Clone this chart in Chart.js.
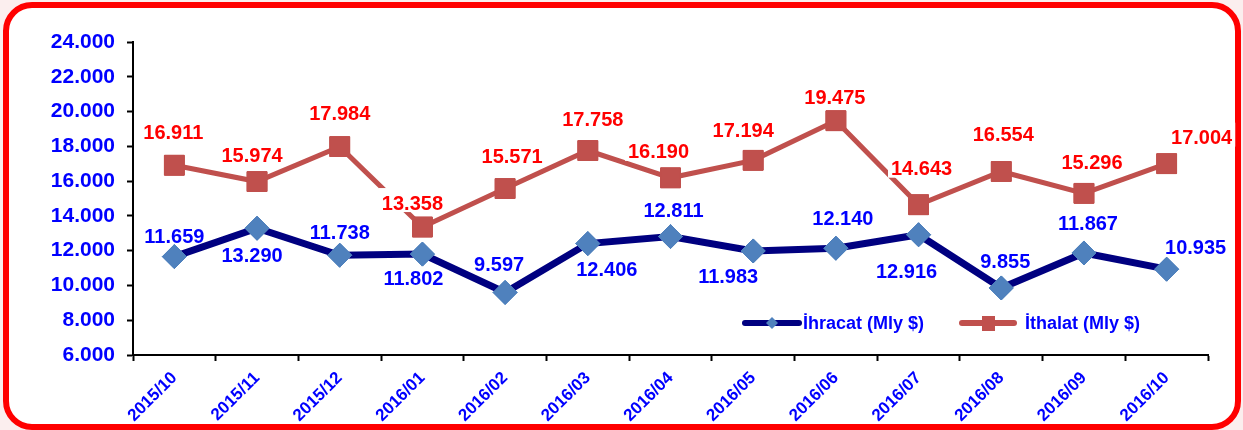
<!DOCTYPE html>
<html>
<head>
<meta charset="utf-8">
<script src="https://cdn.jsdelivr.net/npm/chart.js@4"></script>
<style>
  html, body { margin: 0; padding: 0; background: #fff; }
  canvas { display: block; }
</style>
</head>
<body>
<canvas id="trade-chart" width="1243" height="430"></canvas>
<script>
const months = ['2015/10', '2015/11', '2015/12', '2016/01', '2016/02', '2016/03', '2016/04',
  '2016/05', '2016/06', '2016/07', '2016/08', '2016/09', '2016/10'];
const ihracat = [11659, 13290, 11738, 11802, 9597, 12406, 12811, 11983, 12140, 12916, 9855, 11867, 10935];
const ithalat = [16911, 15974, 17984, 13358, 15571, 17758, 16190, 17194, 19475, 14643, 16554, 15296, 17004];
const seriesNames = ['İhracat (Mly $)', 'İthalat (Mly $)'];

// where each value label sits relative to its point (dx, dy)
const ihracatLabelPos = [[0, -20], [-5, 27], [0, -23], [-9, 24], [-6, -28], [19, 26], [3, -26],
  [-25, 26], [7, -30], [-12, 37], [4, -26], [4, -29], [29, -22]];
const ithalatLabelPos = [[-1, -33], [-5, -26], [0, -33], [-10, -24], [7, -32], [5, -31], [-12, -26],
  [-10, -30], [-1, -23], [3, -36], [2, -37], [8, -31], [35, -26]];

const FONT = "'Liberation Sans', Arial, sans-serif";
const NAVY = '#000080';
const STEEL = '#4F81BD';
const BRICK = '#C0504D';

function fmt(v) {
  return (v / 1000).toFixed(3);
}

const frame = {
  id: 'frame',
  beforeDraw(chart) {
    const ctx = chart.ctx;
    ctx.save();
    ctx.fillStyle = '#fbeeee';
    ctx.fillRect(0, 0, chart.width, chart.height);
    ctx.beginPath();
    ctx.roundRect(6, 5, 1232, 422, 26);
    ctx.fillStyle = '#fff';
    ctx.fill();
    ctx.lineWidth = 6;
    ctx.strokeStyle = '#ff0000';
    ctx.stroke();
    ctx.restore();
  }
};

const valueLabels = {
  id: 'valueLabels',
  afterDatasetsDraw(chart) {
    const ctx = chart.ctx;
    const setups = [
      { values: ihracat, pos: ihracatLabelPos, color: '#0000ff', box: false },
      { values: ithalat, pos: ithalatLabelPos, color: '#ff0000', box: true }
    ];
    ctx.save();
    ctx.font = 'bold 20px ' + FONT;
    ctx.textAlign = 'center';
    ctx.textBaseline = 'middle';
    // import labels have a white box that hides the line under them
    setups.forEach((s, d) => {
      if (!s.box) return;
      chart.getDatasetMeta(d).data.forEach((p, i) => {
        const w = ctx.measureText(fmt(s.values[i])).width;
        const x = p.x + s.pos[i][0];
        const y = p.y + s.pos[i][1];
        ctx.fillStyle = '#fff';
        ctx.fillRect(x - w / 2 - 3, y - 15, w + 6, 24);
      });
    });
    [1, 0].forEach(d => {
      chart.getDatasetMeta(d).data.forEach(p => p.draw(ctx));
    });
    setups.forEach((s, d) => {
      ctx.fillStyle = s.color;
      chart.getDatasetMeta(d).data.forEach((p, i) => {
        ctx.fillText(fmt(s.values[i]), p.x + s.pos[i][0], p.y + s.pos[i][1] + 1);
      });
    });
    ctx.restore();
  }
};

const legendBox = {
  id: 'legendBox',
  afterDraw(chart) {
    const ctx = chart.ctx;
    ctx.save();
    ctx.lineCap = 'round';
    // ihracat
    ctx.strokeStyle = NAVY;
    ctx.lineWidth = 6;
    ctx.beginPath();
    ctx.moveTo(745, 323);
    ctx.lineTo(799, 323);
    ctx.stroke();
    ctx.fillStyle = STEEL;
    ctx.beginPath();
    ctx.moveTo(772, 317);
    ctx.lineTo(778, 323);
    ctx.lineTo(772, 329);
    ctx.lineTo(766, 323);
    ctx.closePath();
    ctx.fill();
    // ithalat
    ctx.strokeStyle = BRICK;
    ctx.beginPath();
    ctx.moveTo(962, 323);
    ctx.lineTo(1014, 323);
    ctx.stroke();
    ctx.fillStyle = BRICK;
    ctx.fillRect(982, 316, 13, 15);

    ctx.font = 'bold 18px ' + FONT;
    ctx.fillStyle = '#0000ff';
    ctx.textAlign = 'left';
    ctx.textBaseline = 'middle';
    ctx.fillText(seriesNames[0], 803, 324);
    ctx.fillText(seriesNames[1], 1025, 324);
    ctx.restore();
  }
};

const ctx = document.getElementById('trade-chart').getContext('2d');

new Chart(ctx, {
  type: 'line',
  data: {
    labels: months,
    datasets: [
      {
        label: seriesNames[0],
        data: ihracat,
        borderColor: NAVY,
        borderWidth: 7,
        backgroundColor: STEEL,
        pointStyle: 'rectRot',
        pointRadius: 12,
        pointBorderWidth: 1,
        pointBorderColor: STEEL,
        pointBackgroundColor: STEEL,
        tension: 0
      },
      {
        label: seriesNames[1],
        data: ithalat,
        borderColor: BRICK,
        borderWidth: 5,
        backgroundColor: BRICK,
        pointStyle: 'rect',
        pointRadius: 14,
        pointBorderWidth: 1,
        pointBorderColor: BRICK,
        pointBackgroundColor: BRICK,
        tension: 0
      }
    ]
  },
  options: {
    responsive: false,
    animation: false,
    devicePixelRatio: 1,
    layout: { padding: { left: 0, top: 42, right: 35, bottom: 0 } },
    plugins: {
      legend: { display: false },
      tooltip: { enabled: false }
    },
    scales: {
      x: {
        offset: true,
        afterFit: scale => { scale.height = 75; },
        grid: {
          offset: true,
          drawOnChartArea: false,
          drawTicks: true,
          tickLength: 6,
          tickWidth: 2,
          tickColor: '#000'
        },
        border: { display: true, color: '#000', width: 2 },
        ticks: {
          autoSkip: false,
          minRotation: 45,
          maxRotation: 45,
          padding: 7,
          color: '#0000ff',
          font: { family: FONT, size: 17, weight: 'bold' }
        }
      },
      y: {
        min: 6000,
        max: 24000,
        afterFit: scale => { scale.width = 133; },
        grid: {
          drawOnChartArea: false,
          drawTicks: true,
          tickLength: 6,
          tickWidth: 2,
          tickColor: '#000'
        },
        border: { display: true, color: '#000', width: 2 },
        ticks: {
          stepSize: 2000,
          padding: 12,
          color: '#0000ff',
          font: { family: FONT, size: 21, weight: 'bold' },
          callback: v => fmt(v)
        }
      }
    }
  },
  plugins: [frame, valueLabels, legendBox]
});
</script>
</body>
</html>
